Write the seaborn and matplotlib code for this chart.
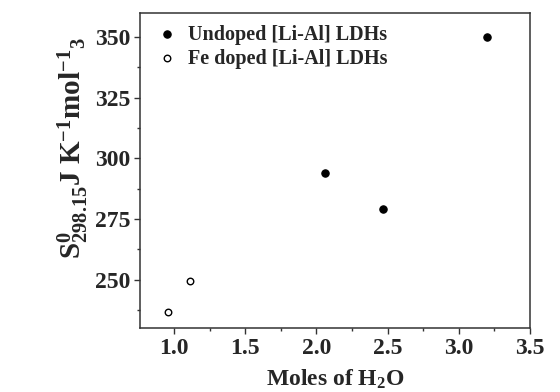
import numpy as np
import pandas as pd
import matplotlib
import matplotlib.pyplot as plt
import seaborn as sns
from matplotlib.ticker import MultipleLocator

matplotlib.use('Agg')

# data
undoped_h2o = [3.20, 2.06, 2.47]
undoped_s = [350.0, 294.0, 279.0]
fe_h2o = [0.96, 1.11]
fe_s = [236.5, 249.5]

df = pd.DataFrame({
    'h2o': undoped_h2o + fe_h2o,
    's': undoped_s + fe_s,
    'sample': ['Undoped [Li-Al] LDHs'] * len(undoped_h2o) + ['Fe doped [Li-Al] LDHs'] * len(fe_h2o),
})

sns.set_style('ticks')
plt.rcParams['font.family'] = ['Liberation Serif', 'DejaVu Serif']
plt.rcParams['font.weight'] = 'bold'
plt.rcParams['mathtext.fontset'] = 'custom'
plt.rcParams['mathtext.rm'] = 'Liberation Serif:bold'
plt.rcParams['mathtext.bf'] = 'Liberation Serif:bold'
plt.rcParams['mathtext.it'] = 'Liberation Serif:bold'

fig = plt.figure(figsize=(5.6, 3.92), dpi=100)
ax = fig.add_axes([0.25, 0.163, 0.696, 0.805])

und = df[df['sample'] == 'Undoped [Li-Al] LDHs']
fe = df[df['sample'] == 'Fe doped [Li-Al] LDHs']
sns.scatterplot(data=und, x='h2o', y='s', ax=ax, color='black', s=28,
                edgecolor='black', linewidth=0.8, label='Undoped [Li-Al] LDHs')
sns.scatterplot(data=fe, x='h2o', y='s', ax=ax, facecolor='white', s=22,
                edgecolor='black', linewidth=1.0, label='Fe doped [Li-Al] LDHs')

ax.set_xlim(0.76, 3.5)
ax.set_ylim(230, 360)
ax.xaxis.set_major_locator(MultipleLocator(0.5))
ax.xaxis.set_minor_locator(MultipleLocator(0.25))
ax.yaxis.set_major_locator(MultipleLocator(25))
ax.yaxis.set_minor_locator(MultipleLocator(12.5))
ax.tick_params(which='major', direction='out', length=4, width=1, labelsize=17,
               color='#333333', pad=3)
ax.tick_params(which='minor', direction='out', length=2.5, width=1, color='#333333')
for sp in ax.spines.values():
    sp.set_linewidth(1.1)
    sp.set_color('#333333')
for lab in ax.get_xticklabels() + ax.get_yticklabels():
    lab.set_fontweight('bold')

ax.set_xlabel(r'Moles of H$_2$O', fontsize=17, fontweight='bold')
ax.xaxis.set_label_coords(0.5, -0.125)
ax.set_ylabel(r'S$^{\mathbf{0}}_{\mathbf{298.15}}$J K$^{-1}$mol$^{-1}$$_{3}$',
              fontsize=21, fontweight='bold')
ax.yaxis.set_label_coords(-0.125, 0.57)

ax.legend(loc='upper left', frameon=False, handletextpad=0.3, handlelength=1.5,
          borderaxespad=0.2, labelspacing=0.2, prop={'weight': 'bold', 'size': 14.5})

fig.savefig('out.png', dpi=100)
